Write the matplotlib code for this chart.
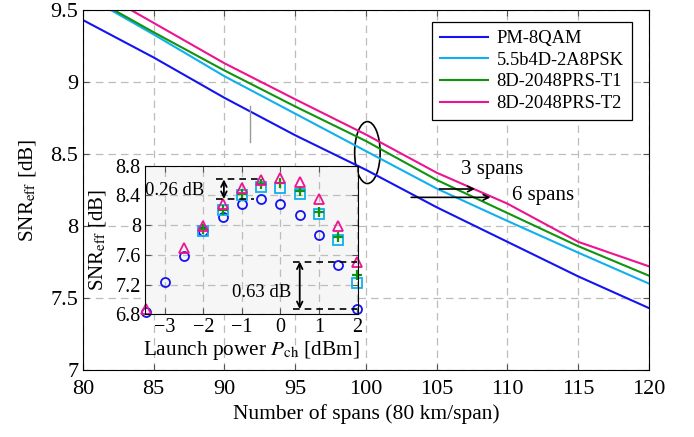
import numpy as np
import matplotlib
matplotlib.use("Agg")
import matplotlib.pyplot as plt
from matplotlib.patches import Ellipse

plt.rcParams["font.family"] = ["Liberation Serif", "DejaVu Serif"]
plt.rcParams["mathtext.fontset"] = "stix"

# ── main curves: SNR_eff vs number of spans ──
spans = [80, 85, 90, 95, 100, 105, 110, 115, 120]
snr_8qam = [9.43, 9.17, 8.89, 8.63, 8.39, 8.13, 7.89, 7.65, 7.43]
snr_2a8psk = [9.61, 9.33, 9.04, 8.78, 8.52, 8.26, 8.035, 7.815, 7.60]
snr_t1 = [9.62, 9.345, 9.08, 8.83, 8.59, 8.32, 8.09, 7.86, 7.655]
snr_t2 = [9.69, 9.41, 9.13, 8.88, 8.635, 8.37, 8.155, 7.89, 7.72]

labels = ["PM-8QAM", "5.5b4D-2A8PSK", "8D-2048PRS-T1", "8D-2048PRS-T2"]
colors = ["#1414f0", "#10b0ee", "#109410", "#ec1490"]

# ── inset: SNR_eff vs launch power ──
p_8qam = [-3.5, -3, -2.5, -2, -1.5, -1, -0.5, 0, 0.5, 1, 1.5, 2]
in_8qam = [6.83, 7.24, 7.58, 7.92, 8.11, 8.29, 8.356, 8.29, 8.13, 7.865, 7.47, 6.872]
p_psk = [-2, -1.5, -1, -0.5, 0, 0.5, 1, 1.5, 2]
in_psk = [7.92, 8.21, 8.40, 8.52, 8.495, 8.42, 8.15, 7.80, 7.226]
p_t1 = [-2, -1.5, -1, -0.5, 0, 0.5, 1, 1.5, 2]
in_t1 = [7.95, 8.21, 8.42, 8.55, 8.565, 8.465, 8.18, 7.84, 7.325]
p_t2 = [-3.5, -2.5, -2, -1.5, -1, -0.5, 0, 0.5, 1, 1.5, 2]
in_t2 = [6.867, 7.69, 7.99, 8.29, 8.505, 8.607, 8.63, 8.585, 8.347, 7.99, 7.509]

fig = plt.figure(figsize=(6.94, 4.37), dpi=100)
ax = fig.add_axes([0.1196, 0.1533, 0.8155, 0.8238])

grid_kw = dict(color="#bdbdbd", linestyle=(0, (6, 4)), linewidth=0.9)

for y, lab, c in zip([snr_8qam, snr_2a8psk, snr_t1, snr_t2], labels, colors):
    ax.plot(spans, y, color=c, lw=1.5, label=lab)

ax.set_xlim(80, 120)
ax.set_ylim(7, 9.5)
ax.set_xticks(np.arange(80, 121, 5))
ax.set_yticks([7, 7.5, 8, 8.5, 9, 9.5])
ax.set_yticklabels(["7", "7.5", "8", "8.5", "9", "9.5"])
ax.grid(True, **grid_kw)
ax.tick_params(direction="in", top=True, right=True, length=4, labelsize=16,
               color="#555555")
ax.tick_params(axis="x", pad=7)
ax.set_xlabel("Number of spans (80 km/span)", fontsize=15.5, labelpad=4)
ax.set_ylabel(r"SNR$_{\mathrm{eff}}$ [dB]", fontsize=15.2, labelpad=9)

leg = ax.legend(loc="upper right", bbox_to_anchor=(0.970, 0.967), borderaxespad=0,
                fontsize=13.3, frameon=True, fancybox=False, edgecolor="black",
                framealpha=1, handlelength=2.6, handletextpad=0.45,
                labelspacing=0.25, borderpad=0.45)
leg.get_frame().set_linewidth(0.9)

# stray mark and annotations
ax.plot([91.8, 91.8], [8.585, 8.83], color="#999999", lw=1.0)
ax.add_patch(Ellipse((100.1, 8.51), 1.8, 0.43, fill=False, ec="black", lw=1.2))
ax.annotate("", xy=(107.9, 8.257), xytext=(105.0, 8.257),
            arrowprops=dict(arrowstyle="->", lw=1.2, color="black"))
ax.annotate("", xy=(109.0, 8.199), xytext=(103.0, 8.199),
            arrowprops=dict(arrowstyle="->", lw=1.2, color="black"))
ax.text(108.9, 8.39, "3 spans", fontsize=15, ha="center", va="center")
ax.text(112.5, 8.21, "6 spans", fontsize=15, ha="center", va="center")

# ── inset ──
ins = fig.add_axes([0.2089, 0.2808, 0.3073, 0.340])
ins.set_facecolor("#f6f6f6")
ins.plot(p_8qam, in_8qam, "o", mfc="none", mec=colors[0], mew=1.3, ms=6.5, clip_on=False)
ins.plot(p_psk, in_psk, "s", mfc="none", mec=colors[1], mew=1.3, ms=6.5, clip_on=False)
ins.plot(p_t1, in_t1, "+", color=colors[2], mew=1.6, ms=7, clip_on=False)
ins.plot(p_t2, in_t2, "^", mfc="none", mec=colors[3], mew=1.3, ms=6.5, clip_on=False)
ins.set_xlim(-3.52, 2.02)
ins.set_ylim(6.8, 8.8)
ins.set_xticks([-3, -2, -1, 0, 1, 2])
ins.set_xticklabels(["\u22123", "\u22122", "\u22121", "0", "1", "2"])
ins.set_yticks([6.8, 7.2, 7.6, 8, 8.4, 8.8])
ins.set_yticklabels(["6.8", "7.2", "7.6", "8", "8.4", "8.8"])
ins.grid(True, **grid_kw)
ins.set_axisbelow(True)
ins.tick_params(direction="in", top=True, right=True, length=4, labelsize=14.5, pad=3,
                color="#555555")
ins.set_xlabel(r"Launch power $P_{\mathrm{ch}}$ [dBm]", fontsize=15.3, labelpad=1)
ins.set_ylabel(r"SNR$_{\mathrm{eff}}$ [dB]", fontsize=15, labelpad=5)

dash = dict(color="black", lw=1.2, linestyle=(0, (4, 3)))
ins.plot([-1.68, -0.45], [8.616, 8.616], **dash)
ins.plot([-1.68, -0.7], [8.352, 8.352], **dash)
ins.annotate("", xy=(-1.47, 8.616), xytext=(-1.47, 8.352),
             arrowprops=dict(arrowstyle="<->", lw=1.3, color="black",
                             shrinkA=0, shrinkB=0))
ins.text(-2.75, 8.47, "0.26 dB", fontsize=13.5, ha="center", va="center")

ins.plot([0.33, 2.0], [7.51, 7.51], **dash)
ins.plot([0.33, 2.0], [6.87, 6.87], **dash)
ins.annotate("", xy=(0.5, 7.51), xytext=(0.5, 6.87),
             arrowprops=dict(arrowstyle="<->", lw=1.3, color="black",
                             shrinkA=0, shrinkB=0))
ins.text(-0.5, 7.1, "0.63 dB", fontsize=13.5, ha="center", va="center")

fig.savefig("out.png", dpi=100)
